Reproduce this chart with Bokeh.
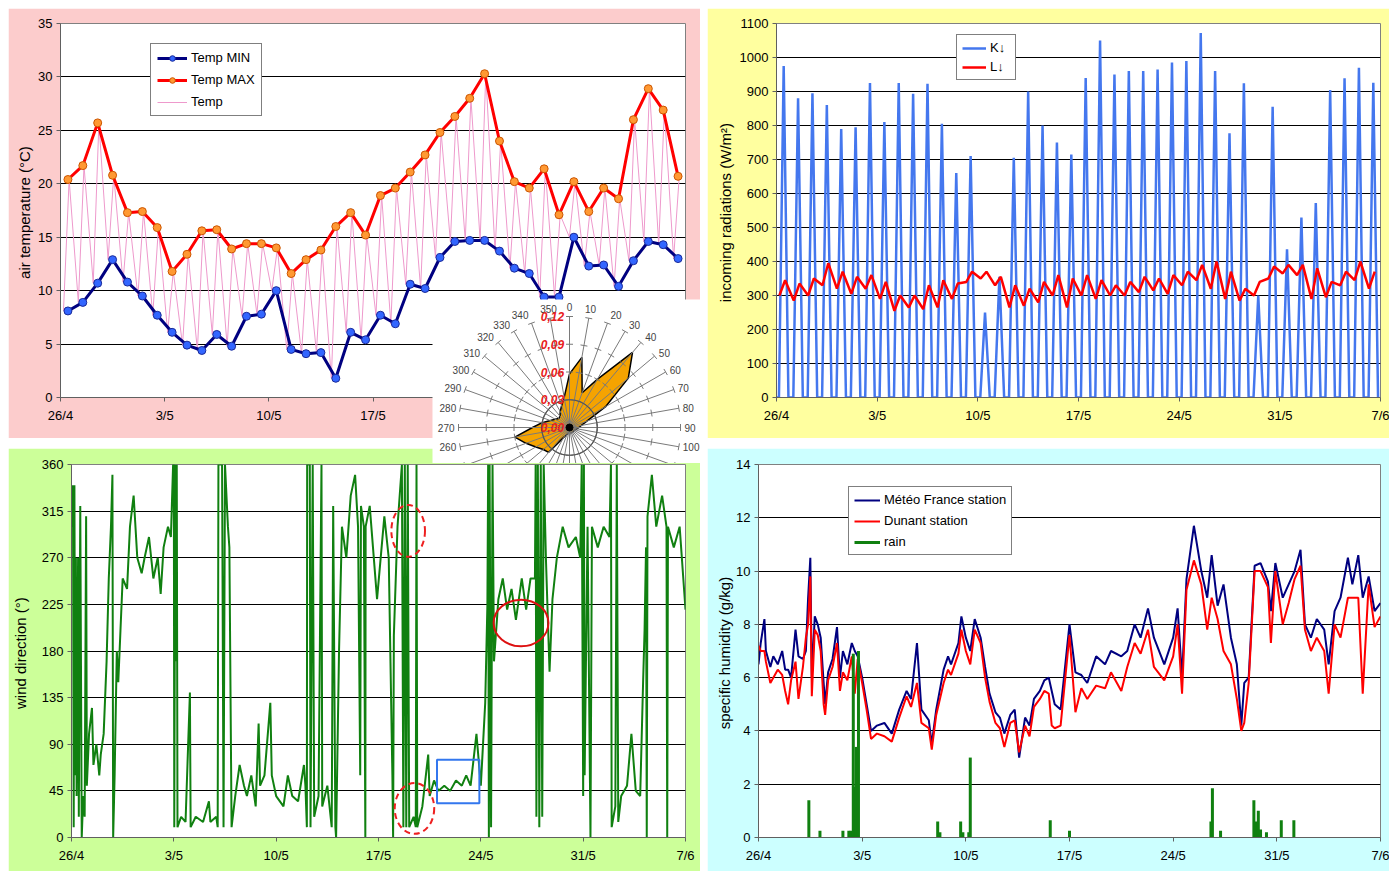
import math
from bokeh.plotting import figure
from bokeh.models import FixedTicker, Legend, LegendItem, Range1d
from bokeh.layouts import row, column
from bokeh.embed import file_html
from bokeh.resources import INLINE
from bokeh.core.properties import value

FONT = "Liberation Sans"

# ---------------- data ----------------
date_ticks = [0, 7, 14, 21, 28, 35, 42]
date_labels = ["26/4", "3/5", "10/5", "17/5", "24/5", "31/5", "7/6"]

# daily temperature extremes (deg C), one per day from 26/4
temp_min = [8.1, 8.9, 10.7, 12.9, 10.8, 9.5, 7.7, 6.1, 4.9, 4.4, 5.9, 4.8, 7.6, 7.8,
            10.0, 4.5, 4.1, 4.2, 1.8, 6.1, 5.4, 7.7, 6.9, 10.6, 10.2, 13.1, 14.6, 14.7,
            14.7, 13.7, 12.1, 11.6, 9.4, 9.4, 15.0, 12.3, 12.4, 10.4, 12.8, 14.6, 14.3, 13.0]
temp_max = [20.4, 21.7, 25.7, 20.8, 17.3, 17.4, 15.9, 11.8, 13.4, 15.6, 15.7, 13.9, 14.4, 14.4,
            14.0, 11.6, 12.9, 13.8, 16.0, 17.3, 15.2, 18.9, 19.6, 21.1, 22.7, 24.8, 26.3, 28.0,
            30.3, 24.0, 20.2, 19.6, 21.4, 17.1, 20.2, 17.4, 19.6, 18.6, 26.0, 28.9, 26.9, 20.7]

# daily peak of incoming shortwave radiation K (W/m2)
kdown_peak = [975, 880, 895, 860, 790, 795, 925, 810, 925, 893, 923, 805, 660, 710,
              250, 355, 705, 900, 800, 750, 715, 940, 1050, 950, 960, 960, 965, 985,
              990, 1072, 960, 777, 924, 300, 855, 436, 529, 572, 904, 939, 970, 926]

# incoming longwave radiation L (W/m2): night value, day value for each day
ldown_night = [300, 285, 300, 330, 320, 305, 320, 290, 255, 265, 260, 265, 290, 340,
               350, 330, 265, 270, 280, 300, 265, 300, 290, 300, 300, 310, 315, 305,
               330, 345, 320, 290, 285, 300, 350, 365, 360, 290, 295, 330, 345, 320]
ldown_day = [345, 335, 350, 395, 370, 355, 360, 340, 300, 300, 330, 345, 335, 370,
             370, 355, 330, 320, 340, 360, 350, 360, 345, 330, 340, 355, 350, 360,
             370, 390, 400, 370, 320, 340, 385, 390, 390, 380, 340, 370, 400, 370]

# wind direction (deg): time in days from 26/4 and direction
wind_t = [0.0, 0.1, 0.15, 0.2, 0.25, 0.3, 0.35, 0.45, 0.5, 0.6, 0.7, 0.8, 0.9, 1.0, 1.05,
          1.2, 1.4, 1.5, 1.7, 1.9, 2.0, 2.2, 2.4, 2.55, 2.7, 2.8, 2.85, 2.95, 3.1, 3.2,
          3.35, 3.5, 3.8, 4.0, 4.25, 4.5, 4.8, 5.0, 5.3, 5.6, 5.9, 6.1, 6.3, 6.6, 6.8,
          6.95, 7.0, 7.03, 7.1, 7.15, 7.2, 7.25, 7.5, 7.8, 8.1, 8.15, 8.5, 9.0, 9.4, 9.5,
          9.9, 10.0, 10.05, 10.3, 10.4, 10.5, 10.7, 10.8, 10.95, 11.2, 11.5, 11.8, 12.0,
          12.3, 12.6, 12.8, 12.9, 13.2, 13.6, 13.7, 14.0, 14.5, 14.8, 15.1, 15.5, 15.9,
          16.0, 16.1, 16.12, 16.3, 16.35, 16.5, 16.6, 16.9, 17.1, 17.15, 17.5, 17.8, 17.9,
          18.05, 18.1, 18.3, 18.5, 18.8, 19.1, 19.4, 19.6, 19.75, 19.8, 20.0, 20.1, 20.12,
          20.4, 20.9, 21.4, 21.7, 21.95, 22.0, 22.05, 22.3, 22.6, 22.7, 22.8, 22.9, 23.0,
          23.1, 23.4, 23.55, 23.6, 23.65, 24.0, 24.4, 24.5, 24.8, 25.1, 25.5, 25.9, 26.3,
          26.7, 27.0, 27.3, 27.7, 28.0, 28.3, 28.45, 28.5, 28.55, 28.6, 28.7, 28.8, 28.9,
          29.2, 29.5, 29.8, 30.1, 30.4, 30.8, 31.1, 31.4, 31.7, 31.75, 31.8, 31.9, 32.0,
          32.1, 32.2, 32.3, 32.45, 32.7, 32.9, 33.2, 33.6, 34.0, 34.5, 34.8, 34.9, 35.0,
          35.05, 35.1, 35.3, 35.5, 35.6, 36.0, 36.4, 36.8, 36.9, 36.95, 37.2, 37.3, 37.4,
          37.6, 38.0, 38.3, 38.6, 38.9, 39.1, 39.2, 39.3, 39.35, 39.4, 39.7, 40.0, 40.4,
          40.7, 40.75, 40.8, 41.2, 41.6, 42.0]
wind_dir = [300, 340, 10, 340, 60, 270, 40, 270, 20, 320, 0, 40, 20, 310, 50,
            100, 125, 70, 90, 60, 80, 100, 170, 250, 300, 350, 0, 60, 180, 150,
            200, 250, 240, 300, 330, 270, 255, 270, 290, 250, 270, 235, 280, 300, 290,
            360, 360, 10, 360, 170, 360, 10, 20, 15, 140, 10, 20, 15, 35, 15,
            20, 10, 360, 360, 10, 360, 300, 280, 10, 40, 70, 50, 40,
            60, 30, 110, 50, 60, 130, 60, 40, 30, 60, 40, 35, 70,
            50, 10, 360, 360, 10, 360, 20, 40, 360, 30, 50, 10, 320,
            10, 0, 180, 300, 270, 330, 350, 300, 60, 320, 300, 0, 300,
            320, 230, 310, 270, 60, 0, 195, 300, 360, 10, 360, 10, 360,
            10, 20, 10, 360, 10, 30, 80, 40, 55, 45, 50, 45, 55,
            50, 60, 50, 100, 50, 130, 225, 360, 0, 360, 10, 360, 170,
            230, 250, 220, 240, 210, 250, 220, 250, 250, 360, 20, 360, 10,
            360, 20, 360, 270, 160, 230, 270, 300, 280, 290, 270, 360, 40,
            360, 60, 300, 0, 300, 280, 300, 290, 360, 10, 30, 360, 15,
            40, 50, 100, 45, 40, 150, 200, 280, 0, 310, 350, 300, 330,
            300, 0, 300, 280, 300, 220]

# specific humidity (g/kg)
hum_t = [0.0, 0.15, 0.4, 0.5, 0.8, 1.0, 1.3, 1.6, 1.8, 2.0, 2.2, 2.5, 2.7, 3.0, 3.2,
         3.35, 3.5, 3.6, 3.8, 4.0, 4.2, 4.4, 4.5, 4.7, 5.0, 5.3, 5.5, 5.7, 6.0, 6.3,
         6.5, 6.7, 7.0, 7.3, 7.6, 8.0, 8.5, 9.0, 9.5, 10.0, 10.3, 10.7, 11.0, 11.5,
         11.7, 12.0, 12.5, 12.8, 13.0, 13.5, 13.7, 14.0, 14.3, 14.6, 15.0, 15.3, 15.6,
         16.0, 16.3, 16.6, 17.0, 17.3, 17.6, 18.0, 18.3, 18.6, 19.0, 19.3, 19.6, 19.8,
         20.0, 20.4, 21.0, 21.4, 21.8, 22.2, 22.8, 23.4, 23.8, 24.5, 24.9, 25.4, 25.8,
         26.3, 26.7, 27.4, 28.0, 28.3, 28.6, 28.9, 29.4, 29.9, 30.3, 30.6, 31.0, 31.4,
         31.9, 32.3, 32.6, 32.8, 33.1, 33.5, 33.9, 34.4, 34.6, 34.9, 35.4, 35.8, 36.2,
         36.6, 36.9, 37.3, 37.7, 38.2, 38.5, 38.9, 39.3, 39.8, 40.1, 40.5, 40.8, 41.2,
         41.6, 42.0]
hum_meteofrance = [6.5, 7.3, 8.2, 7.0, 6.4, 6.8, 6.5, 7.0, 6.3, 6.3, 6.0, 7.8, 6.8, 6.7, 7.0,
                   9.0, 10.5, 6.0, 8.3, 8.0, 7.5, 5.8, 5.0, 6.2, 6.7, 7.9, 6.0, 7.0, 6.5, 7.3,
                   7.0, 6.8, 6.0, 5.0, 4.0, 4.2, 4.3, 3.9, 4.8, 5.5, 5.2, 7.3, 4.8, 4.4,
                   3.5, 4.8, 6.3, 6.8, 6.5, 7.3, 8.3, 7.5, 7.0, 8.2, 7.5, 6.4, 5.4,
                   4.7, 4.5, 3.9, 4.6, 4.8, 3.0, 4.5, 4.2, 5.2, 5.5, 5.9, 6.0, 5.5,
                   5.0, 4.8, 8.0, 6.2, 6.1, 5.8, 6.8, 6.5, 7.0, 6.8, 7.0, 8.0, 7.5,
                   8.6, 7.5, 6.5, 7.5, 8.6, 6.0, 9.7, 11.7, 10.0, 9.0, 10.6, 8.7, 9.5,
                   7.5, 6.5, 4.2, 5.8, 6.0, 10.2, 10.3, 9.6, 8.5, 10.3, 9.0, 9.5, 10.0,
                   10.8, 8.0, 7.5, 8.2, 7.8, 6.5, 8.5, 9.0, 10.5, 9.5, 10.6, 9.0, 9.8,
                   8.5, 8.8]
hum_dunant = [7.2, 7.0, 7.0, 6.6, 5.8, 6.0, 6.3, 6.1, 5.5, 5.0, 5.9, 6.6, 5.2, 6.4, 7.5,
              8.0, 9.8, 5.3, 7.8, 7.6, 7.0, 5.0, 4.6, 5.9, 6.4, 7.3, 5.5, 6.2, 5.9, 6.8,
              5.4, 6.7, 5.8, 4.8, 3.7, 3.9, 3.8, 3.6, 4.5, 5.3, 4.9, 5.8, 4.3, 4.1,
              3.3, 4.6, 5.8, 6.3, 6.1, 6.9, 7.8, 7.0, 6.5, 7.8, 7.3, 6.0, 5.1,
              4.3, 4.1, 3.4, 4.3, 4.4, 3.2, 4.2, 3.8, 4.9, 5.2, 5.5, 5.4, 4.2,
              4.1, 4.2, 7.6, 4.7, 5.6, 5.2, 5.7, 5.6, 6.2, 5.5, 6.4, 7.3, 6.9,
              7.8, 6.4, 5.9, 6.8, 8.0, 5.4, 9.3, 10.4, 9.5, 7.8, 9.0, 8.2, 7.0,
              6.5, 5.2, 4.0, 4.3, 5.8, 10.0, 10.0, 9.4, 7.3, 10.0, 8.0, 8.8, 9.7,
              10.2, 7.8, 7.0, 7.5, 7.0, 5.4, 8.0, 7.5, 9.0, 9.0, 9.0, 5.4, 9.5,
              7.9, 8.3]

# rain (plotted on the humidity axis)
rain_t = [3.4, 4.15, 5.7, 6.1, 6.25, 6.4, 6.5, 6.6, 6.75, 12.1, 12.25, 13.65, 13.8,
          14.2, 14.3, 19.7, 21.0, 30.55, 30.65, 31.2, 33.45, 33.6, 33.75, 33.9, 34.3,
          35.3, 36.15]
rain_v = [1.4, 0.25, 0.25, 0.25, 0.25, 6.9, 1.9, 3.4, 7.0, 0.6, 0.2, 0.6, 0.2,
          0.2, 3.0, 0.65, 0.25, 0.6, 1.85, 0.25, 1.4, 0.6, 1.0, 0.3, 0.2,
          0.65, 0.65]

# wind rose: frequency per 10-degree sector
rose_dir = list(range(0, 360, 10))
rose_freq = [0.058, 0.077, 0.040, 0.060, 0.106, 0.083, 0.045, 0.020, 0.013, 0.010,
             0.008, 0.007, 0.006, 0.006, 0.006, 0.006, 0.006, 0.006, 0.006, 0.006,
             0.008, 0.012, 0.035, 0.037, 0.042, 0.050, 0.060, 0.040, 0.030, 0.022,
             0.018, 0.015, 0.016, 0.020, 0.025, 0.033]
rose_rings = [0.0, 0.03, 0.06, 0.09, 0.12]
rose_ring_labels = ["0,00", "0,03", "0,06", "0,09", "0,12"]

# ---------------- helpers ----------------
def style(p, ylabel, yticks, bg):
    p.background_fill_color = "white"
    p.border_fill_color = bg
    p.outline_line_color = "#808080"
    p.xgrid.visible = False
    p.ygrid.grid_line_color = "black"
    p.ygrid.grid_line_width = 1
    p.xaxis.ticker = FixedTicker(ticks=date_ticks)
    p.xaxis.major_label_overrides = dict(zip(date_ticks, date_labels))
    p.yaxis.ticker = FixedTicker(ticks=yticks)
    for ax in (p.xaxis, p.yaxis):
        ax.axis_line_color = "#606060"
        ax.major_tick_line_color = "#606060"
        ax.major_tick_out = 4
        ax.major_tick_in = 0
        ax.minor_tick_line_color = None
        ax.major_label_text_font = FONT
        ax.major_label_text_font_size = "13px"
        ax.major_label_text_color = "black"
    p.xaxis.major_label_standoff = 6
    p.yaxis.major_label_standoff = 4
    p.yaxis.axis_label = ylabel
    p.yaxis.axis_label_text_font = FONT
    p.yaxis.axis_label_text_font_size = "15px"
    p.yaxis.axis_label_text_font_style = "normal"
    p.yaxis.axis_label_text_color = "black"


def make_legend(items, loc, glyph_w=24, spacing=7, padding=5, size="13px"):
    lg = Legend(items=items, location=loc, orientation="vertical")
    lg.label_text_font = FONT
    lg.label_text_font_size = size
    lg.label_text_color = "black"
    lg.border_line_color = "black"
    lg.border_line_width = 1
    lg.background_fill_color = "white"
    lg.background_fill_alpha = 1
    lg.glyph_width = glyph_w
    lg.glyph_height = 14
    lg.label_height = 14
    lg.spacing = spacing
    lg.padding = padding
    lg.margin = 0
    lg.label_standoff = 4
    return lg


X0, X1 = 0, 42

# ---------------- top-left: temperature ----------------
p1 = figure(width=692, height=430, x_range=Range1d(X0, X1), y_range=Range1d(0, 35),
            output_backend="svg", toolbar_location=None,
            min_border_left=52, min_border_right=15, min_border_top=15, min_border_bottom=41)
style(p1, "air temperature  (°C)", list(range(0, 36, 5)), "#FCCCCC")
p1.yaxis.axis_label_standoff = 2

temp_t, temp_v = [], []
for d in range(len(temp_min)):
    temp_t += [d + 0.2, d + 0.58]
    temp_v += [temp_min[d], temp_max[d]]
day_mid = [d + 0.5 for d in range(len(temp_min))]

r_temp = p1.line(temp_t, temp_v, line_color="#EE99CC", line_width=1)
r_minl = p1.line(day_mid, temp_min, line_color="#000080", line_width=3)
r_mins = p1.scatter(day_mid, temp_min, size=8, fill_color="#3366FF", line_color="#1a2a99")
r_maxl = p1.line(day_mid, temp_max, line_color="#FF0000", line_width=3)
r_maxs = p1.scatter(day_mid, temp_max, size=8, fill_color="#FF9933", line_color="#CC5500")
p1.add_layout(make_legend([
    LegendItem(label="Temp MIN", renderers=[r_minl, r_mins]),
    LegendItem(label="Temp MAX", renderers=[r_maxl, r_maxs]),
    LegendItem(label="Temp", renderers=[r_temp]),
], (90, 281), glyph_w=30, spacing=7, padding=6), "center")

# ---------------- top-right: radiation ----------------
p2 = figure(width=682, height=430, x_range=Range1d(X0, X1), y_range=Range1d(0, 1100),
            output_backend="svg", toolbar_location=None,
            min_border_left=69, min_border_right=9, min_border_top=15, min_border_bottom=41)
style(p2, "incoming radiations  (W/m²)", list(range(0, 1101, 100)), "#FFFF9F")
p2.yaxis.axis_label_standoff = 3

k_t, k_v = [0.0], [0.0]
for d, pk in enumerate(kdown_peak):
    k_t += [d + 0.17, d + 0.5, d + 0.83]
    k_v += [0, pk, 0]
l_t, l_v = [], []
for d in range(len(ldown_night)):
    l_t += [d + 0.2, d + 0.6]
    l_v += [ldown_night[d], ldown_day[d]]

r_k = p2.line(k_t, k_v, line_color="#4477EE", line_width=2.5)
r_l = p2.line(l_t, l_v, line_color="#FF0000", line_width=2.5)
p2.add_layout(make_legend([
    LegendItem(label="K↓", renderers=[r_k]),
    LegendItem(label="L↓", renderers=[r_l]),
], (180, 317), glyph_w=24, spacing=4), "center")

# ---------------- bottom-left: wind direction ----------------
p3 = figure(width=692, height=423, x_range=Range1d(X0, X1), y_range=Range1d(0, 360),
            output_backend="svg", toolbar_location=None,
            min_border_left=62, min_border_right=15, min_border_top=16, min_border_bottom=34)
style(p3, "wind direction  (°)", list(range(0, 361, 45)), "#CCFF99")
p3.yaxis.axis_label_standoff = 10
p3.xaxis.major_label_standoff = 6
p3.line(wind_t, wind_dir, line_color="#108010", line_width=2)
# highlighted periods
p3.ellipse(x=[23.03], y=[296], width=2.3, height=50, fill_color=None,
           line_color="#EE2020", line_width=2, line_dash="6 4")
p3.ellipse(x=[23.46], y=[28], width=2.7, height=49, fill_color=None,
           line_color="#EE2020", line_width=2, line_dash="6 4")
p3.ellipse(x=[30.75], y=[207], width=3.75, height=45, fill_color=None,
           line_color="#DD1010", line_width=2)
p3.quad(left=[25.0], right=[27.9], bottom=[33], top=[75], fill_color=None,
        line_color="#3377EE", line_width=2)

# ---------------- bottom-right: humidity ----------------
p4 = figure(width=682, height=423, x_range=Range1d(X0, X1), y_range=Range1d(0, 14),
            output_backend="svg", toolbar_location=None,
            min_border_left=51, min_border_right=9, min_border_top=16, min_border_bottom=34)
style(p4, "specific humidity  (g/kg)", list(range(0, 15, 2)), "#CCFFFF")
p4.yaxis.axis_label_standoff = 0
p4.xaxis.major_label_standoff = 6
r_mf = p4.line(hum_t, hum_meteofrance, line_color="#000080", line_width=2)
r_du = p4.line(hum_t, hum_dunant, line_color="#FF0000", line_width=2)
r_rain = p4.segment(x0=rain_t, y0=[0] * len(rain_t), x1=rain_t, y1=rain_v,
                    line_color="#108010", line_width=3)
p4.add_layout(make_legend([
    LegendItem(label="Météo France station", renderers=[r_mf]),
    LegendItem(label="Dunant station", renderers=[r_du]),
    LegendItem(label="rain", renderers=[r_rain]),
], (90, 282), glyph_w=26, spacing=6), "center")

# ---------------- inset: wind rose ----------------
S = 925.0  # pixels per frequency unit
iw, ih = 268, 164
cx, cy = 137, 128
inset = figure(width=iw, height=ih, x_range=Range1d(-cx / S, (iw - cx) / S),
               y_range=Range1d(-(ih - cy) / S, cy / S),
               output_backend="svg", toolbar_location=None,
               x_axis_type=None, y_axis_type=None,
               min_border=0, min_border_left=0, min_border_right=0,
               min_border_top=0, min_border_bottom=0)
inset.grid.visible = False
inset.outline_line_color = None
inset.background_fill_color = "white"
inset.border_fill_color = "white"

RMAX = rose_rings[-1]
ang = [math.radians(a) for a in rose_dir]
px = [f * math.sin(a) for f, a in zip(rose_freq, ang)]
py = [f * math.cos(a) for f, a in zip(rose_freq, ang)]
inset.patch(px, py, fill_color="#F5A300", line_color="black", line_width=1.5)

# spokes with tick marks
sx0, sy0, sx1, sy1 = [], [], [], []
tx0, ty0, tx1, ty1 = [], [], [], []
tk = 3.5 / S
for a in ang:
    sx0.append(0); sy0.append(0)
    sx1.append(RMAX * math.sin(a)); sy1.append(RMAX * math.cos(a))
    for r in rose_rings[1:]:
        bx, by = r * math.sin(a), r * math.cos(a)
        nx, ny = math.cos(a), -math.sin(a)
        tx0.append(bx - tk * nx); ty0.append(by - tk * ny)
        tx1.append(bx + tk * nx); ty1.append(by + tk * ny)
inset.segment(sx0, sy0, sx1, sy1, line_color="#7a7a7a", line_width=1)
inset.segment(tx0, ty0, tx1, ty1, line_color="#7a7a7a", line_width=1)
inset.circle(x=[0], y=[0], radius=rose_rings[1], fill_color=None,
             line_color="#555555", line_width=1.2)
inset.scatter(x=[0], y=[0], size=7, fill_color="black", line_color="black")

# spoke labels (only those inside the visible part of the inset)
ybottom = -(ih - cy) / S
for d, a in zip(rose_dir, ang):
    s, c = math.sin(a), math.cos(a)
    rl = RMAX + (4 + 6 * abs(c) ** 3) / S
    if rl * c - 6 / S < ybottom:
        continue
    al = "left" if s > 0.25 else ("right" if s < -0.25 else "center")
    inset.text(x=[rl * s], y=[rl * c], text=[str(d)], text_align=al, text_baseline="middle",
               text_font=value(FONT), text_font_size="10px", text_color="#444444")
# ring labels
inset.text(x=[-17 / S] * len(rose_rings), y=rose_rings, text=rose_ring_labels,
           text_align="center", text_baseline="middle", text_font=value(FONT),
           text_font_size="12px", text_font_style="bold italic", text_color="#E82020")

inset.styles = {"position": "absolute", "left": "424px", "top": "291px", "z-index": "10"}

top = row(p1, p2, spacing=7)
bottom = row(p3, p4, spacing=7)
grid = column(top, bottom, spacing=10)
root = column(grid, inset)
root.styles = {"position": "relative", "margin-left": "8px", "margin-top": "8px"}

open("out.html", "w").write(file_html(root, INLINE))
